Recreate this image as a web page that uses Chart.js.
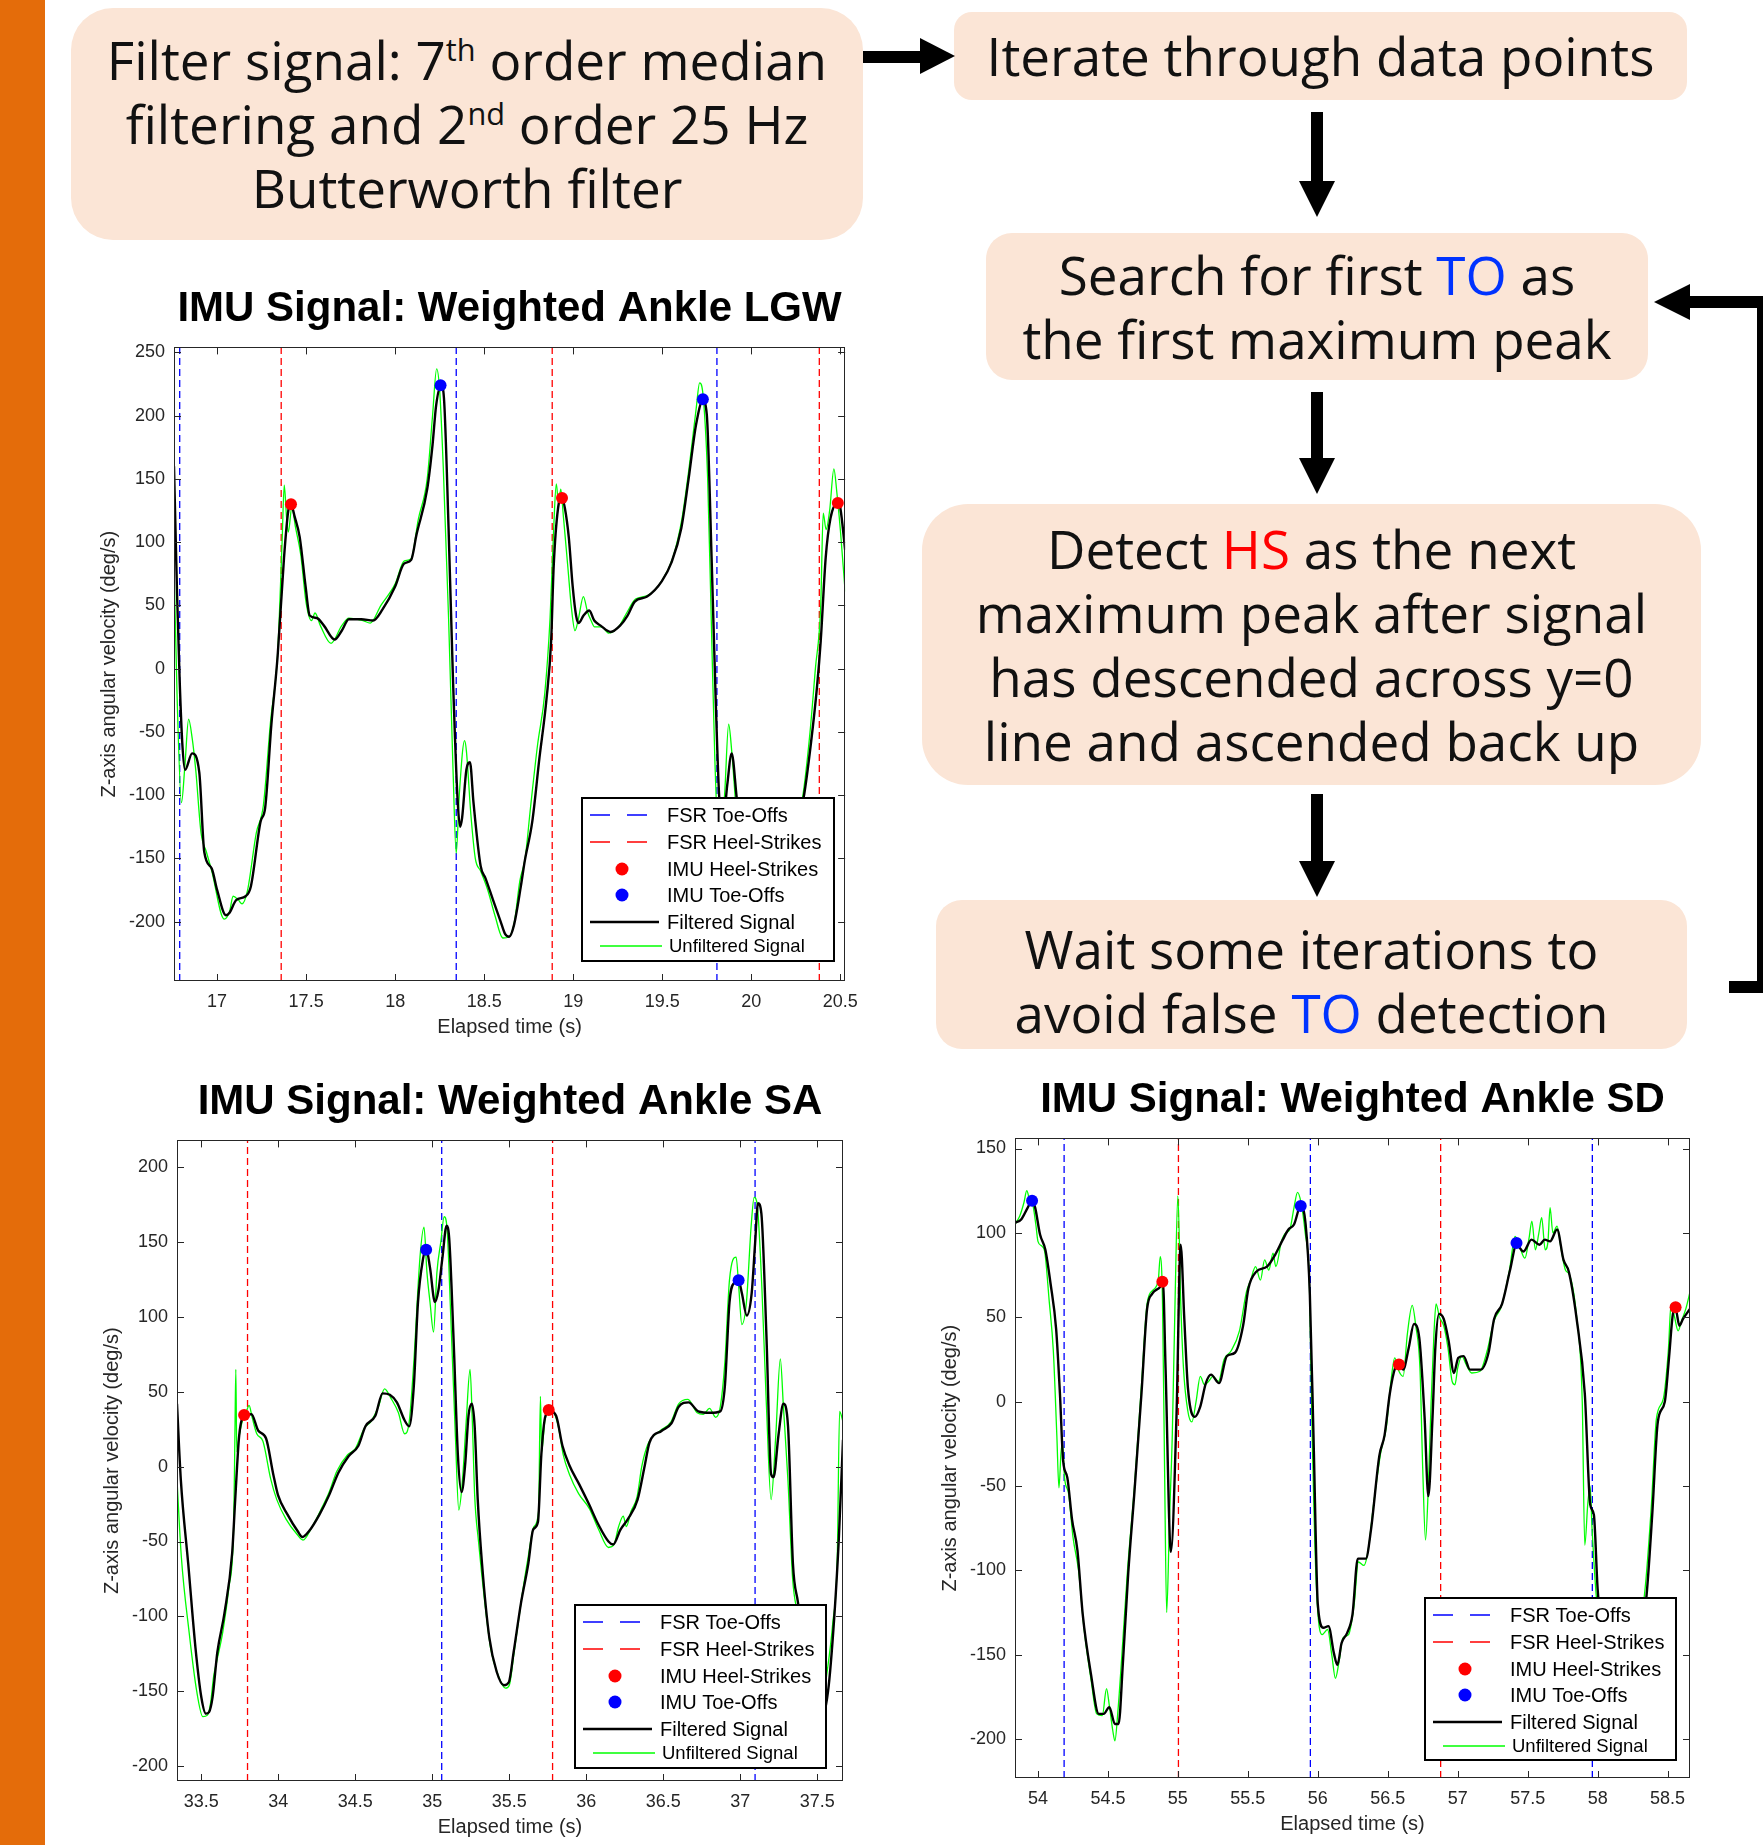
<!DOCTYPE html>
<html>
<head>
<meta charset="utf-8">
<script src="https://cdn.jsdelivr.net/npm/chart.js@4.4.1/dist/chart.umd.min.js"></script>
<style>
  html, body { margin: 0; padding: 0; }
  body { width: 1763px; height: 1845px; position: relative; overflow: hidden; background: #fff; }
  .stripe { position: absolute; left: 0; top: 0; width: 45px; height: 1845px; background: #e46c0a; }
  .box {
    position: absolute; background: #fbe5d6; color: #111;
    font-family: "Open Sans", "Noto Sans", sans-serif; font-size: 53px; line-height: 64px;
    display: flex; align-items: center; justify-content: center; text-align: center;
    box-sizing: border-box; white-space: nowrap;
  }
  .box sup { font-size: 0.58em; line-height: 0; vertical-align: 0.62em; }
  .blue { color: #0033ff; }
  .red { color: #ff0000; }
  canvas { position: absolute; }
  svg { position: absolute; left: 0; top: 0; }
</style>
</head>
<body>
<div class="stripe"></div>

<div class="box" style="left:71px;top:8px;width:792px;height:232px;border-radius:42px;">
  <div>Filter signal: 7<sup>th</sup> order median<br>filtering and 2<sup>nd</sup> order 25 Hz<br>Butterworth filter</div>
</div>
<div class="box" style="left:954px;top:12px;width:733px;height:88px;border-radius:18px;">
  <div>Iterate through data points</div>
</div>
<div class="box" style="left:986px;top:233px;width:662px;height:147px;border-radius:26px;">
  <div>Search for first <span class="blue">TO</span> as<br>the first maximum peak</div>
</div>
<div class="box" style="left:922px;top:504px;width:779px;height:281px;border-radius:46px;">
  <div>Detect <span class="red">HS</span> as the next<br>maximum peak after signal<br>has descended across y=0<br>line and ascended back up</div>
</div>
<div class="box" style="left:936px;top:900px;width:751px;height:149px;border-radius:26px;padding-top:12px;">
  <div>Wait some iterations to<br>avoid false <span class="blue">TO</span> detection</div>
</div>

<svg width="1763" height="1845">
  <g fill="#000">
    <rect x="863" y="51" width="58" height="12"/>
    <polygon points="920,38 955,56 920,74"/>
    <rect x="1311" y="112" width="12" height="70"/>
    <polygon points="1299,181 1335,181 1317,217"/>
    <rect x="1311" y="392" width="12" height="67"/>
    <polygon points="1299,458 1335,458 1317,494"/>
    <rect x="1311" y="794" width="12" height="68"/>
    <polygon points="1299,861 1335,861 1317,897"/>
    <rect x="1689" y="296" width="80" height="12"/>
    <polygon points="1690,284 1654,302 1690,320"/>
    <rect x="1757" y="296" width="12" height="697"/>
    <rect x="1729" y="981" width="40" height="12"/>
  </g>
</svg>

<canvas id="chartLGW" width="774" height="772" style="left:94px;top:271px;"></canvas>
<canvas id="chartSA" width="766" height="779" style="left:97px;top:1064px;"></canvas>
<canvas id="chartSD" width="775" height="778" style="left:935px;top:1062px;"></canvas>

<script>
// ---- LGW ----
const lgwXRange = [16.758, 20.527];
const lgwYRange = [-247, 254];
const lgwXTicks = [17, 17.5, 18, 18.5, 19, 19.5, 20, 20.5];
const lgwYTicks = [-200, -150, -100, -50, 0, 50, 100, 150, 200, 250];
const lgwFsrToeOffs = [16.79, 18.343, 19.807];
const lgwFsrHeelStrikes = [17.36, 18.882, 20.382];
const lgwImuHeelStrikes = [[17.415, 130], [18.937, 135], [20.486, 131]];
const lgwImuToeOffs = [[18.255, 224], [19.728, 213]];
const lgwFiltered = [[16.758,160],[16.775,60],[16.79,-10],[16.805,-60],[16.82,-80],[16.86,-67],[16.9,-82],[16.928,-145],[16.97,-158],[17.0,-175],[17.05,-195],[17.07,-193],[17.107,-183],[17.16,-180],[17.19,-172],[17.244,-121],[17.27,-110],[17.305,-44],[17.34,10],[17.376,88],[17.4,125],[17.415,130],[17.436,120],[17.464,104],[17.497,65],[17.52,42],[17.56,40],[17.6,34],[17.66,23],[17.7,30],[17.74,39],[17.81,39],[17.876,38],[17.93,47],[18.0,65],[18.05,83],[18.09,86],[18.12,106],[18.18,142],[18.21,177],[18.23,208],[18.258,224],[18.274,214],[18.3,111],[18.324,-5],[18.35,-102],[18.365,-125],[18.376,-118],[18.4,-80],[18.42,-74],[18.44,-106],[18.48,-156],[18.508,-166],[18.55,-183],[18.59,-199],[18.618,-210],[18.64,-212],[18.667,-203],[18.706,-172],[18.728,-152],[18.77,-121],[18.81,-71],[18.85,-24],[18.876,22],[18.89,80],[18.915,127],[18.937,135],[18.953,127],[18.975,104],[18.997,65],[19.016,42],[19.03,36],[19.058,42],[19.09,46],[19.118,38],[19.154,34],[19.21,29],[19.263,34],[19.305,42],[19.346,53],[19.415,57],[19.497,69],[19.552,84],[19.607,111],[19.648,150],[19.69,193],[19.728,212],[19.75,201],[19.777,88],[19.8,-24],[19.82,-102],[19.84,-125],[19.865,-92],[19.89,-67],[19.918,-102],[19.98,-175],[20.05,-198],[20.15,-185],[20.22,-145],[20.294,-102],[20.335,-59],[20.37,-13],[20.39,22],[20.418,88],[20.445,119],[20.486,131],[20.5,127],[20.527,94]];
const lgwUnfiltered = [[16.758,84],[16.775,-20],[16.8,-106],[16.82,-75],[16.84,-40],[16.86,-55],[16.88,-80],[16.91,-130],[16.94,-145],[16.97,-160],[17.04,-198],[17.07,-192],[17.09,-180],[17.12,-183],[17.14,-186],[17.17,-176],[17.22,-130],[17.26,-108],[17.3,-42],[17.34,12],[17.365,100],[17.377,145],[17.39,120],[17.4,108],[17.42,128],[17.44,112],[17.47,90],[17.5,52],[17.53,38],[17.55,44],[17.58,34],[17.64,20],[17.7,34],[17.74,40],[17.82,38],[17.86,36],[17.92,50],[18.0,67],[18.05,85],[18.09,87],[18.13,118],[18.18,150],[18.21,200],[18.233,237],[18.25,220],[18.27,160],[18.3,40],[18.325,-80],[18.343,-146],[18.36,-100],[18.39,-57],[18.4,-65],[18.425,-115],[18.45,-150],[18.48,-160],[18.52,-175],[18.56,-195],[18.605,-213],[18.64,-212],[18.67,-200],[18.7,-168],[18.73,-150],[18.76,-110],[18.8,-60],[18.84,-20],[18.87,40],[18.89,110],[18.905,146],[18.918,130],[18.93,142],[18.945,120],[18.97,80],[18.99,48],[19.01,30],[19.03,40],[19.057,57],[19.08,45],[19.1,38],[19.12,33],[19.16,33],[19.2,28],[19.26,34],[19.3,44],[19.35,55],[19.42,58],[19.5,70],[19.56,88],[19.61,118],[19.65,158],[19.69,205],[19.71,226],[19.73,215],[19.755,150],[19.775,40],[19.795,-70],[19.82,-145],[19.85,-100],[19.873,-44],[19.89,-65],[19.92,-120],[19.98,-180],[20.05,-200],[20.15,-185],[20.22,-140],[20.29,-100],[20.33,-50],[20.36,0],[20.39,50],[20.404,123],[20.42,110],[20.44,125],[20.464,158],[20.48,140],[20.5,110],[20.527,61]];

// ---- SA ----
const saXRange = [33.342, 37.667];
const saYRange = [-210, 218];
const saXTicks = [33.5, 34, 34.5, 35, 35.5, 36, 36.5, 37, 37.5];
const saYTicks = [-200, -150, -100, -50, 0, 50, 100, 150, 200];
const saFsrToeOffs = [35.061, 37.096];
const saFsrHeelStrikes = [33.80, 35.781];
const saImuHeelStrikes = [[33.778, 34.6], [35.756, 37.9]];
const saImuToeOffs = [[34.96, 145], [36.989, 124.5]];
const saFiltered = [[33.342,42],[33.367,-9],[33.415,-65],[33.462,-121],[33.5,-154],[33.53,-165],[33.55,-164],[33.573,-154],[33.604,-124],[33.65,-98],[33.7,-58],[33.72,-22],[33.746,21],[33.78,34],[33.825,35],[33.87,24],[33.92,19],[33.967,-5],[33.998,-19],[34.06,-32],[34.125,-43],[34.157,-47],[34.2,-43],[34.267,-32],[34.33,-19],[34.39,-4],[34.456,7],[34.52,14],[34.566,27],[34.63,34],[34.677,49],[34.724,48],[34.77,43],[34.82,31],[34.85,27],[34.88,54],[34.907,110],[34.94,139],[34.96,146],[34.985,133],[35.017,110],[35.04,118],[35.065,139],[35.093,161],[35.11,152],[35.14,80],[35.166,8],[35.19,-17],[35.213,1],[35.235,34],[35.257,42],[35.275,27],[35.295,-22],[35.323,-65],[35.37,-114],[35.418,-137],[35.465,-146],[35.497,-144],[35.528,-124],[35.576,-91],[35.623,-65],[35.655,-42],[35.686,-37],[35.708,8],[35.735,34],[35.766,37],[35.804,34],[35.845,14],[35.89,1],[35.955,-12],[36.017,-25],[36.08,-39],[36.144,-50],[36.175,-52],[36.222,-42],[36.27,-35],[36.333,-22],[36.38,1],[36.41,16],[36.49,24],[36.553,29],[36.6,40],[36.664,43],[36.727,37],[36.806,36],[36.87,37],[36.9,54],[36.93,110],[36.962,123],[36.99,124],[37.01,116],[37.042,101],[37.074,116],[37.096,149],[37.115,176],[37.137,169],[37.17,87],[37.2,-5],[37.216,-7],[37.248,21],[37.28,42],[37.31,27],[37.342,-65],[37.375,-91],[37.42,-130],[37.47,-165],[37.52,-170],[37.57,-150],[37.61,-101],[37.64,-48],[37.667,18]];
const saUnfiltered = [[33.342,-9],[33.37,-60],[33.42,-110],[33.47,-150],[33.51,-167],[33.54,-166],[33.56,-158],[33.58,-140],[33.6,-130],[33.64,-110],[33.68,-80],[33.71,-40],[33.718,20],[33.724,65],[33.73,10],[33.745,20],[33.77,32],[33.79,36],[33.81,41],[33.83,33],[33.86,22],[33.9,17],[33.95,-8],[33.99,-22],[34.05,-35],[34.12,-45],[34.16,-49],[34.22,-40],[34.28,-28],[34.33,-17],[34.38,-3],[34.45,8],[34.5,12],[34.56,26],[34.6,30],[34.65,40],[34.69,52],[34.73,46],[34.78,36],[34.82,22],[34.85,30],[34.88,70],[34.92,140],[34.946,160],[34.965,130],[34.985,110],[35.008,90],[35.03,130],[35.055,150],[35.077,167],[35.095,160],[35.12,100],[35.15,20],[35.172,-29],[35.195,-10],[35.22,30],[35.245,65],[35.26,30],[35.275,-19],[35.3,-50],[35.34,-90],[35.38,-122],[35.43,-140],[35.475,-148],[35.5,-146],[35.53,-125],[35.58,-88],[35.62,-62],[35.66,-40],[35.69,-30],[35.702,47],[35.71,10],[35.73,30],[35.76,38],[35.79,36],[35.82,26],[35.85,8],[35.89,-5],[35.95,-18],[36.02,-28],[36.08,-42],[36.144,-54],[36.18,-52],[36.21,-40],[36.24,-33],[36.26,-40],[36.29,-30],[36.33,-20],[36.36,0],[36.4,15],[36.48,24],[36.55,30],[36.6,42],[36.66,45],[36.72,36],[36.76,35],[36.8,39],[36.84,33],[36.87,40],[36.9,70],[36.93,125],[36.973,140],[36.99,120],[37.01,95],[37.04,110],[37.07,160],[37.09,180],[37.11,175],[37.14,120],[37.17,40],[37.2,-22],[37.23,20],[37.26,72],[37.28,40],[37.31,-10],[37.34,-75],[37.375,-100],[37.42,-135],[37.47,-168],[37.52,-165],[37.56,-140],[37.6,-105],[37.63,-60],[37.645,37],[37.667,30]];

// ---- SD ----
const sdXRange = [53.836, 58.66];
const sdYRange = [-223, 156];
const sdXTicks = [54, 54.5, 55, 55.5, 56, 56.5, 57, 57.5, 58, 58.5];
const sdYTicks = [-200, -150, -100, -50, 0, 50, 100, 150];
const sdFsrToeOffs = [54.187, 55.947, 57.962];
const sdFsrHeelStrikes = [55.004, 56.878];
const sdImuHeelStrikes = [[54.889, 71], [56.58, 22], [58.557, 56]];
const sdImuToeOffs = [[53.958, 119], [55.878, 116], [57.42, 94]];
const sdFiltered = [[53.836,106],[53.88,108],[53.927,115],[53.958,119],[53.98,115],[54.015,99],[54.053,90],[54.09,70],[54.13,43],[54.157,5],[54.18,-35],[54.21,-45],[54.244,-70],[54.282,-88],[54.32,-126],[54.378,-161],[54.435,-185],[54.47,-185],[54.51,-181],[54.55,-191],[54.576,-191],[54.607,-155],[54.645,-102],[54.69,-53],[54.74,5],[54.78,55],[54.817,64],[54.874,68],[54.893,71],[54.912,20],[54.95,-89],[54.99,-9],[55.02,93],[55.046,49],[55.072,8],[55.122,-9],[55.16,-3],[55.2,11],[55.237,16],[55.294,11],[55.35,27],[55.408,29],[55.466,45],[55.504,67],[55.56,77],[55.637,80],[55.695,87],[55.75,96],[55.79,102],[55.83,105],[55.878,116],[55.913,105],[55.943,64],[55.97,-23],[56.0,-120],[56.04,-134],[56.076,-133],[56.115,-149],[56.14,-156],[56.17,-143],[56.21,-137],[56.248,-126],[56.286,-93],[56.343,-93],[56.38,-76],[56.44,-32],[56.477,-20],[56.515,5],[56.553,20],[56.58,22],[56.61,19],[56.65,32],[56.687,46],[56.725,38],[56.763,-9],[56.79,-56],[56.82,-9],[56.84,32],[56.866,52],[56.9,49],[56.935,36],[56.973,17],[57.004,26],[57.042,27],[57.088,19],[57.164,19],[57.22,29],[57.26,49],[57.317,58],[57.374,78],[57.42,93],[57.47,89],[57.527,96],[57.584,93],[57.622,96],[57.66,95],[57.71,102],[57.756,84],[57.794,77],[57.85,49],[57.908,5],[57.947,-61],[57.973,-67],[58.0,-111],[58.08,-170],[58.16,-185],[58.26,-160],[58.347,-117],[58.39,-67],[58.43,-12],[58.48,0],[58.51,26],[58.538,52],[58.557,55],[58.584,45],[58.61,49],[58.66,55]];
const sdUnfiltered = [[53.836,105],[53.87,110],[53.9,118],[53.92,125],[53.94,120],[53.96,118],[53.985,105],[54.0,95],[54.03,92],[54.05,88],[54.08,60],[54.11,30],[54.135,-20],[54.15,-51],[54.165,-30],[54.175,-25],[54.19,-45],[54.22,-55],[54.25,-80],[54.29,-100],[54.33,-135],[54.38,-165],[54.42,-185],[54.46,-186],[54.49,-170],[54.51,-180],[54.535,-195],[54.55,-201],[54.57,-185],[54.6,-150],[54.64,-100],[54.69,-50],[54.74,10],[54.78,58],[54.82,66],[54.86,72],[54.874,86],[54.89,60],[54.905,-40],[54.92,-125],[54.94,-70],[54.96,-20],[54.98,60],[55.0,122],[55.02,60],[55.04,20],[55.07,-5],[55.1,-12],[55.13,0],[55.16,15],[55.19,10],[55.22,12],[55.25,15],[55.29,12],[55.33,25],[55.38,30],[55.44,42],[55.49,65],[55.52,72],[55.555,80],[55.59,72],[55.62,84],[55.65,78],[55.68,88],[55.7,80],[55.74,95],[55.77,100],[55.8,102],[55.83,115],[55.855,124],[55.88,118],[55.91,100],[55.94,70],[55.96,-20],[55.99,-110],[56.03,-138],[56.07,-135],[56.1,-150],[56.126,-164],[56.15,-155],[56.18,-140],[56.22,-138],[56.26,-120],[56.29,-95],[56.33,-97],[56.36,-88],[56.4,-60],[56.45,-30],[56.49,-15],[56.52,10],[56.55,26],[56.58,18],[56.61,15],[56.64,40],[56.675,57],[56.7,45],[56.73,20],[56.75,-40],[56.77,-82],[56.79,-50],[56.81,0],[56.83,40],[56.845,58],[56.87,50],[56.9,45],[56.93,32],[56.96,12],[56.98,10],[57.0,20],[57.03,27],[57.06,22],[57.1,17],[57.16,18],[57.21,30],[57.26,48],[57.31,56],[57.37,78],[57.41,98],[57.45,90],[57.48,85],[57.51,97],[57.53,107],[57.555,90],[57.58,100],[57.6,109],[57.625,90],[57.645,95],[57.66,115],[57.68,100],[57.71,104],[57.74,90],[57.77,78],[57.8,75],[57.85,50],[57.89,0],[57.908,-85],[57.93,-60],[57.946,-50],[57.96,-75],[57.99,-115],[58.08,-175],[58.16,-188],[58.26,-160],[58.34,-110],[58.385,-60],[58.42,-10],[58.47,2],[58.505,30],[58.525,58],[58.55,50],[58.575,42],[58.6,48],[58.63,55],[58.66,65]];

const axisFont = 'Liberation Sans, Arial, Helvetica, sans-serif';

// matlab style box, inside ticks and a boxed legend
const matlabFrame = {
    id: 'matlabFrame',
    afterDatasetsDraw: function(chart, args, opts) {
        const ctx = chart.ctx;
        const a = chart.chartArea;
        const xs = chart.scales.x, ys = chart.scales.y;
        ctx.save();
        ctx.strokeStyle = '#262626';
        ctx.lineWidth = 1;
        ctx.beginPath();
        xs.ticks.forEach(function(t) {
            const px = Math.round(xs.getPixelForValue(t.value)) + 0.5;
            ctx.moveTo(px, a.bottom); ctx.lineTo(px, a.bottom - 7);
            ctx.moveTo(px, a.top); ctx.lineTo(px, a.top + 7);
        });
        ys.ticks.forEach(function(t) {
            const py = Math.round(ys.getPixelForValue(t.value)) + 0.5;
            ctx.moveTo(a.left, py); ctx.lineTo(a.left + 7, py);
            ctx.moveTo(a.right, py); ctx.lineTo(a.right - 7, py);
        });
        ctx.stroke();
        ctx.strokeRect(Math.round(a.left) + 0.5, Math.round(a.top) + 0.5, Math.round(a.width) - 1, Math.round(a.height) - 1);

        const lx = Math.round(a.right - opts.right - opts.width);
        const ly = Math.round(a.bottom - opts.bottom - opts.height);
        ctx.fillStyle = '#fff';
        ctx.fillRect(lx, ly, opts.width, opts.height);
        ctx.lineWidth = 2;
        ctx.strokeStyle = '#000';
        ctx.strokeRect(lx, ly, opts.width, opts.height);
        const rows = [17, 44, 71, 97, 124, 148];
        chart.data.datasets.forEach(function(ds, i) {
            const cy = ly + rows[i];
            if (ds.showLine === false) {
                ctx.fillStyle = ds.backgroundColor;
                ctx.beginPath();
                ctx.arc(lx + 40, cy, 6.5, 0, Math.PI * 2);
                ctx.fill();
            } else {
                ctx.strokeStyle = ds.borderColor;
                ctx.lineWidth = ds.borderWidth;
                ctx.setLineDash(ds.borderDash ? [20, 17] : []);
                ctx.beginPath();
                const x0 = i === 5 ? 18 : 8;
                const x1 = i === 5 ? 80 : (i === 4 ? 77 : 67);
                ctx.moveTo(lx + x0, cy); ctx.lineTo(lx + x1, cy);
                ctx.stroke();
                ctx.setLineDash([]);
            }
            ctx.fillStyle = '#000';
            ctx.font = (i === 5 ? '18.5px ' : '20px ') + axisFont;
            ctx.textBaseline = 'middle';
            ctx.textAlign = 'left';
            ctx.fillText(ds.label, lx + (i === 5 ? 87 : 85), cy + 1);
        });
        ctx.restore();
    }
};

function pairs(list) {
    return list.map(function(p) { return {x: p[0], y: p[1]}; });
}

function eventLines(times, yRange) {
    var pts = [];
    times.forEach(function(t) {
        pts.push({x: t, y: yRange[0]}, {x: t, y: yRange[1]}, {x: t, y: null});
    });
    return pts;
}

function fixedTicks(values) {
    return function(scale) {
        scale.ticks = values.map(function(v) { return {value: v}; });
    };
}

function showSignalChart(canvasId, title, s) {
    var chartdata = {
        datasets: [{
            label: 'FSR Toe-Offs',
            data: eventLines(s.toeLines, s.yRange),
            borderColor: '#0000ff', borderWidth: 1.3, borderDash: [7, 4],
            pointRadius: 0, spanGaps: false, order: 3
        }, {
            label: 'FSR Heel-Strikes',
            data: eventLines(s.heelLines, s.yRange),
            borderColor: '#ff0000', borderWidth: 1.3, borderDash: [7, 4],
            pointRadius: 0, spanGaps: false, order: 3
        }, {
            label: 'IMU Heel-Strikes',
            data: pairs(s.heelDots),
            showLine: false, backgroundColor: '#ff0000', borderWidth: 0,
            pointRadius: 6, order: 0
        }, {
            label: 'IMU Toe-Offs',
            data: pairs(s.toeDots),
            showLine: false, backgroundColor: '#0000ff', borderWidth: 0,
            pointRadius: 6, order: 0
        }, {
            label: 'Filtered Signal',
            data: pairs(s.filtered),
            borderColor: '#000000', borderWidth: 2.4, borderJoinStyle: 'round',
            pointRadius: 0, cubicInterpolationMode: 'monotone', order: 1
        }, {
            label: 'Unfiltered Signal',
            data: pairs(s.unfiltered),
            borderColor: '#00ff00', borderWidth: 1.3, borderJoinStyle: 'round',
            pointRadius: 0, cubicInterpolationMode: 'monotone', order: 2
        }]
    };

    new Chart(document.getElementById(canvasId), {
        type: 'line',
        data: chartdata,
        plugins: [matlabFrame],
        options: {
            responsive: false,
            animation: false,
            devicePixelRatio: 1,
            events: [],
            layout: {padding: {left: 0, right: 20, top: 0, bottom: 0}},
            scales: {
                x: {
                    type: 'linear', min: s.xRange[0], max: s.xRange[1],
                    grid: {display: false, drawTicks: false}, border: {display: false},
                    afterBuildTicks: fixedTicks(s.xTicks),
                    ticks: {autoSkip: false, maxRotation: 0, padding: 10,
                            callback: function(v) { return String(v); },
                            color: '#262626', font: {family: axisFont, size: 18}},
                    title: {display: true, text: 'Elapsed time (s)', color: '#262626',
                            font: {family: axisFont, size: 20}, padding: {top: 4, bottom: 4}},
                    afterFit: function(scale) { scale.height = 62; }
                },
                y: {
                    min: s.yRange[0], max: s.yRange[1],
                    grid: {display: false, drawTicks: false}, border: {display: false},
                    afterBuildTicks: fixedTicks(s.yTicks),
                    ticks: {autoSkip: false, padding: 9,
                            callback: function(v) { return String(v); },
                            color: '#262626', font: {family: axisFont, size: 18}},
                    title: {display: true, text: 'Z-axis angular velocity (deg/s)', color: '#262626',
                            font: {family: axisFont, size: 20}, padding: {top: 3, bottom: 0}},
                    afterFit: function(scale) { scale.width = 80; }
                }
            },
            plugins: {
                legend: {display: false},
                tooltip: {enabled: false},
                title: {display: true, text: title, fullSize: false, color: '#000',
                        font: {family: axisFont, size: 42, weight: 'bold'}, padding: {top: 13, bottom: 13}},
                matlabFrame: s.legend
            }
        }
    });
}

showSignalChart('chartLGW', 'IMU Signal: Weighted Ankle LGW', {
    xRange: lgwXRange, yRange: lgwYRange, xTicks: lgwXTicks, yTicks: lgwYTicks,
    toeLines: lgwFsrToeOffs, heelLines: lgwFsrHeelStrikes,
    heelDots: lgwImuHeelStrikes, toeDots: lgwImuToeOffs,
    filtered: lgwFiltered, unfiltered: lgwUnfiltered,
    legend: {right: 11, bottom: 20, width: 252, height: 163}
});
showSignalChart('chartSA', 'IMU Signal: Weighted Ankle SA', {
    xRange: saXRange, yRange: saYRange, xTicks: saXTicks, yTicks: saYTicks,
    toeLines: saFsrToeOffs, heelLines: saFsrHeelStrikes,
    heelDots: saImuHeelStrikes, toeDots: saImuToeOffs,
    filtered: saFiltered, unfiltered: saUnfiltered,
    legend: {right: 17, bottom: 13, width: 251, height: 163}
});
showSignalChart('chartSD', 'IMU Signal: Weighted Ankle SD', {
    xRange: sdXRange, yRange: sdYRange, xTicks: sdXTicks, yTicks: sdYTicks,
    toeLines: sdFsrToeOffs, heelLines: sdFsrHeelStrikes,
    heelDots: sdImuHeelStrikes, toeDots: sdImuToeOffs,
    filtered: sdFiltered, unfiltered: sdUnfiltered,
    legend: {right: 14, bottom: 18, width: 251, height: 162}
});
</script>
</body>
</html>
